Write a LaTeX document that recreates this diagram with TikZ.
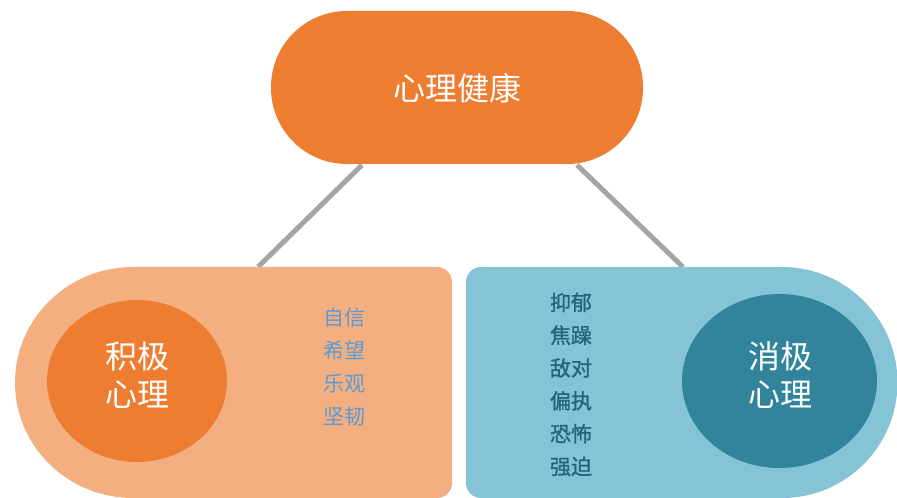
\documentclass[tikz,border=0pt]{standalone}
\usepackage{fontspec}
\newfontfamily\cjk{Noto Sans CJK SC}
\newfontfamily\cjkheavy[FakeBold=1.2]{Noto Sans CJK SC}
\usetikzlibrary{calc}
\definecolor{orng}{HTML}{ED7D31}
\definecolor{lorng}{HTML}{F3AF80}
\definecolor{lblue}{HTML}{84C4D6}
\definecolor{dteal}{HTML}{31849B}
\definecolor{listblue}{HTML}{5B9BD5}
\definecolor{listteal}{HTML}{25657A}
\definecolor{connc}{HTML}{A5A5A5}
\tikzset{
  bigtext/.style={text=white, font=\cjk\fontsize{32}{38}\selectfont, align=center, inner sep=0pt},
  listtext/.style={font=\cjk\fontsize{21}{32.8}\selectfont, align=center, inner sep=0pt},
  conn/.style={draw=connc, line width=5pt},
}
\begin{document}
\begin{tikzpicture}[x=1pt,y=1pt]
\useasboundingbox (0,0) rectangle (897,498);
% connectors first (behind shapes)
\coordinate (lt) at (362,333);
\coordinate (lb) at (258,231);
\coordinate (rt) at (577,333);
\coordinate (rb) at (683,231);
\draw[conn] (lt) -- (lb);
\draw[conn] (rt) -- (rb);
% top node
\node[fill=orng, minimum width=372pt, minimum height=153pt, rounded corners=76pt, inner sep=0pt] (top) at (457,410.5) {};
\node[bigtext] (toptext) at (457,410) {心理健康};
% left shape
\fill[lorng] (133,231) -- (437,231) arc[start angle=90,end angle=0,radius=15]
  -- (452,15) arc[start angle=0,end angle=-90,radius=15]
  -- (133,0) arc[start angle=270,end angle=90,x radius=118, y radius=115.5] -- cycle;
% right shape
\fill[lblue] (782,231) -- (481,231) arc[start angle=90,end angle=180,radius=15]
  -- (466,15) arc[start angle=180,end angle=270,radius=15]
  -- (782,0) arc[start angle=-90,end angle=90,radius=115.5] -- cycle;
% ellipses
\fill[orng] (137,117) ellipse[x radius=90, y radius=81];
\fill[dteal] (779.5,117) ellipse[x radius=97.5, y radius=87];
\node[bigtext] (pos) at (137,123) {积极\\心理};
\node[bigtext] (neg) at (780,123) {消极\\心理};
% lists
\node[listtext, text=listblue] (plist) at (344,131) {自信\\希望\\乐观\\坚韧};
\node[listtext, text=listteal, font=\cjkheavy\fontsize{21}{32.8}\selectfont] (nlist) at (571,113.5) {抑郁\\焦躁\\敌对\\偏执\\恐怖\\强迫};
\end{tikzpicture}
\end{document}
